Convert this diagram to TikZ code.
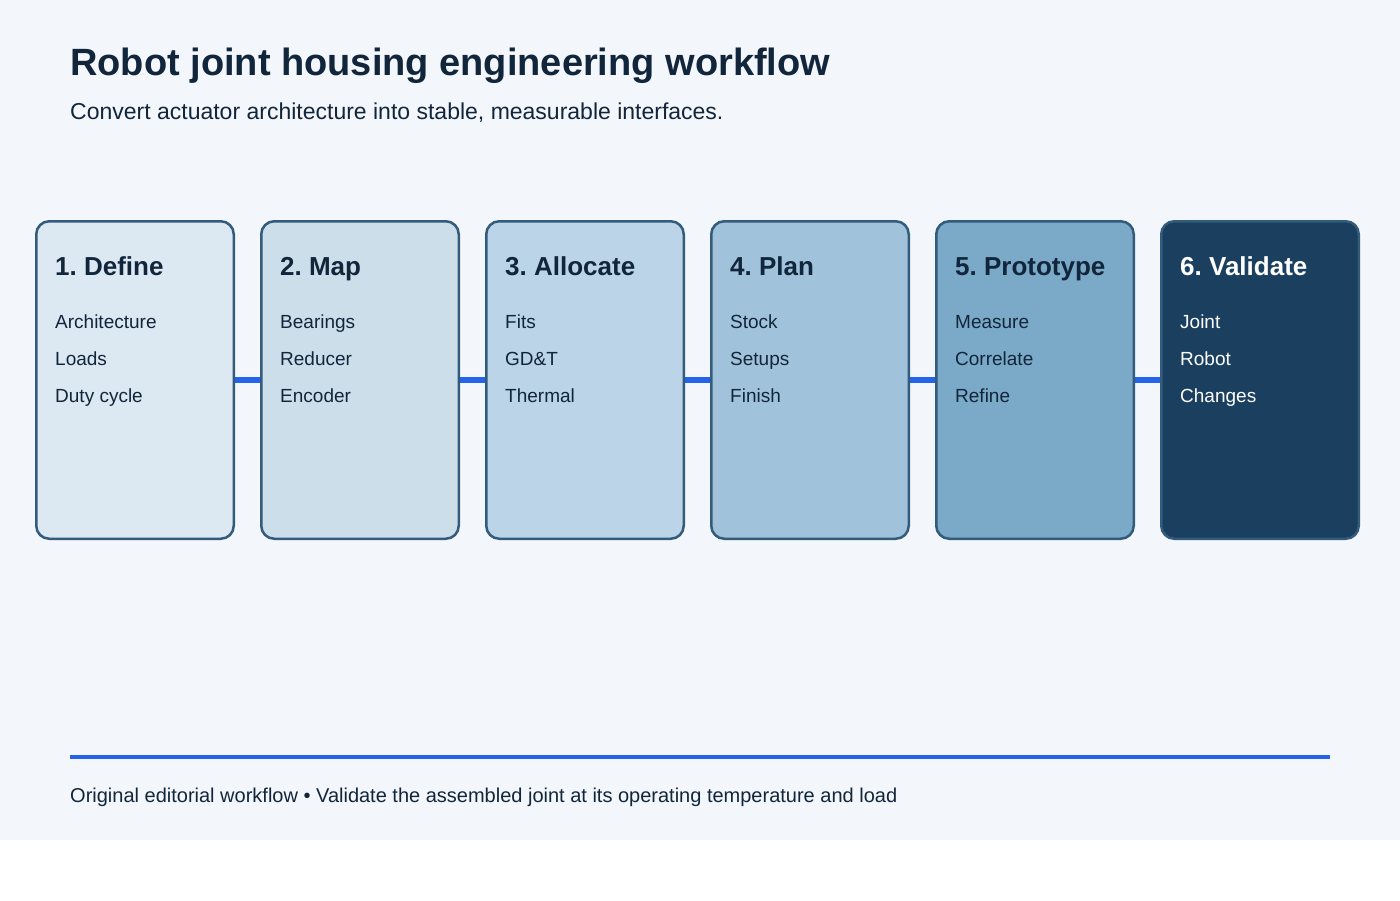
\documentclass[tikz,border=0pt]{standalone}
\usepackage{fontspec}
\setmainfont{Liberation Sans}
\usetikzlibrary{backgrounds}
\definecolor{bgc}{HTML}{F3F6FB}
\definecolor{ink}{HTML}{12263B}
\definecolor{edge}{HTML}{335B7B}
\definecolor{link}{HTML}{2563EB}
\definecolor{fa}{HTML}{DCE8F2}
\definecolor{fb}{HTML}{CDDEEB}
\definecolor{fc}{HTML}{BBD4E7}
\definecolor{fd}{HTML}{A0C3DB}
\definecolor{fe}{HTML}{7BA9C8}
\definecolor{ff}{HTML}{1A3F5F}
\pgfdeclarelayer{back}
\pgfsetlayers{back,background,main}
\tikzset{
  card/.style={draw=edge, line width=2.5pt, rounded corners=13pt, minimum width=197.5pt, minimum height=317.5pt, inner sep=0pt, outer sep=0pt, anchor=north west},
  cardtitle/.style={anchor=base west, inner sep=0pt, font=\fontsize{26}{30}\selectfont\bfseries},
  carditem/.style={anchor=base west, inner sep=0pt, font=\fontsize{19}{22}\selectfont},
  linkline/.style={draw=link, line width=6.5pt}
}
\begin{document}
\frenchspacing
\begin{tikzpicture}[x=1pt,y=-1pt]
\useasboundingbox (0,0) rectangle (1400,900);
\begin{pgfonlayer}{back}
\fill[white] (0,0) rectangle (1400,900);
\fill[bgc] (0,0) rectangle (1400,840);
\end{pgfonlayer}
\node[anchor=base west, inner sep=0pt, text=ink, font=\fontsize{38}{44}\selectfont\bfseries] (title) at (70,75) {Robot joint housing engineering workflow};
\node[anchor=base west, inner sep=0pt, text=ink, font=\fontsize{23}{27}\selectfont] (sub) at (70,119) {Convert actuator architecture into stable, measurable interfaces.};
\foreach \n/\x/\f/\t/\tc/\a/\b/\c in {
  b1/35/fa/{1. Define}/ink/Architecture/Loads/{Duty cycle},
  b2/260/fb/{2. Map}/ink/Bearings/Reducer/Encoder,
  b3/485/fc/{3. Allocate}/ink/Fits/{GD\&T}/Thermal,
  b4/710/fd/{4. Plan}/ink/Stock/Setups/Finish,
  b5/935/fe/{5. Prototype}/ink/Measure/Correlate/Refine,
  b6/1160/ff/{6. Validate}/white/Joint/Robot/Changes}{
  \node[card, fill=\f] (\n) at (\x+1.25,221.25) {};
  \node[cardtitle, text=\tc] (\n t) at (\x+20,275) {\t};
  \node[carditem, text=\tc] (\n a) at (\x+20,328) {\a};
  \node[carditem, text=\tc] (\n b) at (\x+20,365) {\b};
  \node[carditem, text=\tc] (\n c) at (\x+20,402) {\c};
}
\begin{pgfonlayer}{background}
\foreach \p/\q in {b1/b2,b2/b3,b3/b4,b4/b5,b5/b6}{
  \draw[linkline] (\p.east) -- (\q.west);
}
\end{pgfonlayer}
\coordinate (fl) at (70,757);
\coordinate (fr) at (1330,757);
\draw[link, line width=4pt] (fl) -- (fr);
\node[anchor=base west, inner sep=0pt, text=ink, font=\fontsize{20}{24}\selectfont] (foot) at (70,802) {Original editorial workflow • Validate the assembled joint at its operating temperature and load};
\end{tikzpicture}
\end{document}
